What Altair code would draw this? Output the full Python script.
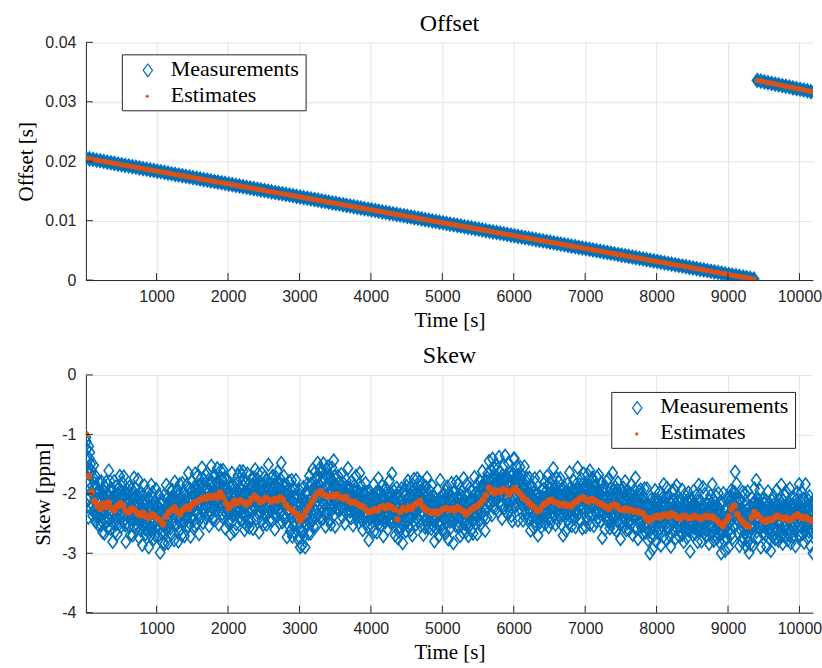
import altair as alt
import numpy as np
import pandas as pd

BLUE = "#0072BD"
ORANGE = "#D95319"
AXIS_COLOR = "#262626"
GRID_COLOR = "#e4e4e4"
SERIF = "Liberation Serif"
SANS = "Liberation Sans"

# ---------------------------------------------------------------- data
# Clock offset [s], sampled every 50 s; the clock is stepped at ~9380 s
offset_lower = [
    0.02050, 0.02039, 0.02028, 0.02017, 0.02007, 0.01996, 0.01985, 0.01974, 0.01963, 0.01952,
    0.01941, 0.01930, 0.01920, 0.01909, 0.01898, 0.01887, 0.01876, 0.01865, 0.01854, 0.01844,
    0.01833, 0.01822, 0.01811, 0.01800, 0.01789, 0.01778, 0.01768, 0.01757, 0.01746, 0.01735,
    0.01724, 0.01713, 0.01702, 0.01691, 0.01681, 0.01670, 0.01659, 0.01648, 0.01637, 0.01626,
    0.01615, 0.01605, 0.01594, 0.01583, 0.01572, 0.01561, 0.01550, 0.01539, 0.01528, 0.01518,
    0.01507, 0.01496, 0.01485, 0.01474, 0.01463, 0.01452, 0.01442, 0.01431, 0.01420, 0.01409,
    0.01398, 0.01387, 0.01376, 0.01366, 0.01355, 0.01344, 0.01333, 0.01322, 0.01311, 0.01300,
    0.01290, 0.01279, 0.01268, 0.01257, 0.01246, 0.01235, 0.01224, 0.01213, 0.01203, 0.01192,
    0.01181, 0.01170, 0.01159, 0.01148, 0.01137, 0.01126, 0.01116, 0.01105, 0.01094, 0.01083,
    0.01072, 0.01061, 0.01050, 0.01040, 0.01029, 0.01018, 0.01007, 0.00996, 0.00985, 0.00974,
    0.00964, 0.00953, 0.00942, 0.00931, 0.00920, 0.00909, 0.00898, 0.00887, 0.00877, 0.00866,
    0.00855, 0.00844, 0.00833, 0.00822, 0.00811, 0.00800, 0.00790, 0.00779, 0.00768, 0.00757,
    0.00746, 0.00735, 0.00724, 0.00714, 0.00703, 0.00692, 0.00681, 0.00670, 0.00659, 0.00648,
    0.00638, 0.00627, 0.00616, 0.00605, 0.00594, 0.00583, 0.00572, 0.00562, 0.00551, 0.00540,
    0.00529, 0.00518, 0.00507, 0.00496, 0.00485, 0.00475, 0.00464, 0.00453, 0.00442, 0.00431,
    0.00420, 0.00409, 0.00398, 0.00388, 0.00377, 0.00366, 0.00355, 0.00344, 0.00333, 0.00322,
    0.00312, 0.00301, 0.00290, 0.00279, 0.00268, 0.00257, 0.00246, 0.00236, 0.00225, 0.00214,
    0.00203, 0.00192, 0.00181, 0.00170, 0.00160, 0.00149, 0.00138, 0.00127, 0.00116, 0.00105,
    0.00094, 0.00083, 0.00073, 0.00062, 0.00051, 0.00040, 0.00029, 0.00018,
]
offset_upper = [
    0.03360, 0.03348, 0.03335, 0.03322, 0.03310, 0.03298, 0.03285, 0.03272, 0.03260,
    0.03248, 0.03235, 0.03222, 0.03210, 0.03198, 0.03185, 0.03172, 0.03160,
]
offset_start_lower = 10
offset_start_upper = 9410
offset_step = 50

# Skew estimate [ppm], every 40 s
skew_estimate = [
    -1.00, -1.70, -1.97, -2.12, -2.20, -2.25, -2.17, -2.22, -2.15, -2.24,
    -2.28, -2.21, -2.16, -2.20, -2.29, -2.31, -2.25, -2.27, -2.33, -2.36,
    -2.32, -2.38, -2.40, -2.34, -2.37, -2.42, -2.45, -2.51, -2.38, -2.31,
    -2.27, -2.23, -2.30, -2.34, -2.27, -2.22, -2.25, -2.19, -2.15, -2.13,
    -2.10, -2.07, -2.08, -2.04, -2.06, -2.03, -2.07, -1.98, -2.05, -2.16,
    -2.24, -2.19, -2.12, -2.15, -2.11, -2.14, -2.18, -2.15, -2.09, -2.04,
    -2.08, -2.14, -2.11, -2.07, -2.10, -2.13, -2.09, -2.11, -2.06, -2.10,
    -2.19, -2.24, -2.27, -2.31, -2.36, -2.45, -2.38, -2.29, -2.22, -2.14,
    -2.06, -1.99, -1.96, -2.01, -2.03, -2.05, -2.02, -2.04, -2.01, -2.06,
    -2.08, -2.05, -2.12, -2.15, -2.13, -2.17, -2.20, -2.22, -2.27, -2.31,
    -2.29, -2.26, -2.28, -2.23, -2.21, -2.24, -2.20, -2.23, -2.26, -2.43,
    -2.30, -2.24, -2.27, -2.22, -2.25, -2.19, -2.16, -2.12, -2.22, -2.27,
    -2.29, -2.32, -2.30, -2.33, -2.29, -2.26, -2.24, -2.27, -2.25, -2.28,
    -2.23, -2.26, -2.29, -2.35, -2.30, -2.26, -2.23, -2.21, -2.16, -2.10,
    -2.02, -1.90, -1.94, -1.99, -1.95, -1.97, -1.92, -1.94, -2.01, -1.96,
    -1.91, -1.95, -2.00, -2.06, -2.10, -2.15, -2.20, -2.23, -2.29, -2.27,
    -2.19, -2.16, -2.12, -2.10, -2.14, -2.16, -2.19, -2.17, -2.20, -2.19,
    -2.21, -2.15, -2.12, -2.08, -2.06, -2.10, -2.13, -2.09, -2.11, -2.14,
    -2.17, -2.19, -2.22, -2.25, -2.20, -2.18, -2.21, -2.26, -2.27, -2.25,
    -2.28, -2.27, -2.30, -2.29, -2.32, -2.33, -2.40, -2.46, -2.41, -2.39,
    -2.37, -2.40, -2.36, -2.35, -2.38, -2.33, -2.36, -2.40, -2.42, -2.37,
    -2.38, -2.41, -2.40, -2.37, -2.39, -2.42, -2.40, -2.37, -2.39, -2.38,
    -2.42, -2.45, -2.50, -2.54, -2.46, -2.38, -2.25, -2.20, -2.34, -2.42,
    -2.48, -2.52, -2.55, -2.40, -2.31, -2.36, -2.40, -2.45, -2.47, -2.43,
    -2.44, -2.40, -2.37, -2.39, -2.42, -2.40, -2.44, -2.43, -2.38, -2.35,
    -2.38, -2.41, -2.39, -2.43, -2.46, -2.44,
]
skew_est_start = 10
skew_est_step = 40

# Skew measurements, every 5 s, as deviation from the estimate [0.01 ppm]
skew_meas_dev = [
    -5, -12, -25, -40, -60, -85, -110, -140, 50, 30, -10, 40, -35, 20, -55, 10, 35, -20, 10, -40,
    25, -5, 45, -30, 30, -15, 5, -35, 20, 40, -25, 10, -12, 21, -32, 5, 26, -18, 39, -6,
    14, -27, 3, 46, -21, -9, 33, -40, 17, 0, -14, 22, -50, 11, 28, -3, -24, 42, -17, 8,
    -35, 19, 6, -11, 54, -29, 12, -2, 36, -20, -44, 24, 9, -15, 31, -57, 18, 2, -26, 45,
    -5, 27, -36, 15, -12, 40, -23, 6, -47, 21, 3, -9, 30, -30, 13, 51, -18, -3, 22, -39,
    10, -17, 35, -6, -27, 18, 49, -14, 0, 25, -33, 9, -52, 16, 4, 37, -21, 12, -8, 28,
    -24, 3, 43, -12, 19, -38, 8, -2, 33, -18, 15, -45, 24, 6, -29, 52, -11, 18, -5, 36,
    -15, 9, -32, 22, 1, -21, 57, -9, 16, -41, 27, 4, -14, 39, -26, 10, -3, 21, -50, 13,
    30, -20, 6, -8, 46, -27, 15, -36, 3, 24, -12, 42, -23, 9, -2, 31, -50, 18, 8, -17,
    19, -30, 10, 55, -6, -24, 36, -14, 2, 27, -42, 13, 21, -9, -33, 5, 45, -18, 12, -3,
    -11, 22, -29, 6, 40, -17, 0, 18, -54, 12, 28, -5, -21, 34, 9, -38, 16, -12, 48, -2,
    15, -33, 4, 25, -14, 53, -23, 7, -6, 31, -45, 19, 2, -18, 39, -9, 13, -27, 3, 21,
    -41, 12, 33, -3, -20, 24, 6, -51, 16, 43, -11, 0, 27, -30, 10, -15, 36, -8, 18, -50,
    9, 28, -17, 46, -5, -26, 13, 21, -36, 2, 52, -12, 6, -23, 30, -2, -44, 15, 24, -9,
    4, -21, 37, -14, 18, -3, -32, 57, -8, 12, -24, 33, 0, -47, 19, 9, -18, 40, -6, 25,
    -27, 16, -2, 30, -39, 13, 49, -11, 22, -15, 3, -35, 42, 8, -20, 27, -5, -55, 15, 36,
    2, -12, 24, -29, 10, 54, -18, 5, -42, 21, 31, -8, -23, 13, 0, 39, -33, 18, -3, -15,
    43, -6, -26, 12, 28, -50, 9, 19, -14, 3, -30, 51, -2, 16, -36, 25, 6, -20, 33, -11,
    -18, 34, 8, -41, 15, -5, 22, -24, 50, -12, 2, 27, -45, 10, 18, -8, -29, 37, -17, 4,
    24, -3, -36, 19, 45, -15, 6, -23, 31, -9, -53, 13, 25, 0, -18, 40, -12, 9, -32, 16,
    -6, 28, -21, 3, 37, -44, 12, 21, -11, 54, -27, 4, -2, 33, -17, 15, -50, 22, 7, -14,
    18, -39, 10, 30, -5, -18, 46, -9, 2, -26, 24, 53, -14, 6, -33, 19, -3, 42, -23, 9,
    52, -15, 27, -8, -47, 13, 3, 34, -20, -2, 21, -36, 52, -11, 16, -27, 6, 31, -42, 12,
    -9, 22, -30, 40, 4, -17, -3, 25, -50, 15, 36, -12, 8, -21, 45, -6, 19, -38, 2, 28,
    10, -24, 42, -5, 16, -57, 21, 0, -18, 33, -8, 13, -32, 49, 3, -14, 27, -41, 18, -2,
    -20, 39, 6, -27, 12, 22, -45, 9, 30, -11, -24, 56, -3, 16, -35, 8, 25, -17, -6, 36,
    4, -32, 19, 43, -12, -2, 28, -21, 10, -51, 24, 2, 37, -15, 15, -29, -8, 48, -18, 9,
    27, -14, -38, 18, 3, 31, -23, 58, -6, 13, -42, 21, 0, -26, 40, -9, 12, -33, 22, -5,
    -21, 6, 34, -54, 16, 25, -11, 4, -29, 45, -3, 19, -39, 9, 30, -17, 50, -12, -45, 15,
    7, -27, 21, 2, -15, 39, -35, 13, 54, -8, -20, 25, -2, 33, -40, 18, 4, -23, 42, -38,
    -45, 12, 28, -18, 37, -42, 3, 21, -26, 49, -9, -33, 24, 15, -52, 40, -6, 16, -21, 31,
    -14, 46, 9, -38, 22, -3, 52, -27, 13, -45, 39, 4, -20, 30, -32, 55, -11, 18, -41, 25,
    6, -30, 43, -12, 19, -48, 33, 10, -23, 51, -5, -36, 28, 15, -17, 42, -44, 2, 31, -9,
    -27, 36, -2, 18, -41, 52, -15, 8, 25, -33, 12, -54, 34, 0, 45, -21, 16, -30, 49, -6,
    21, -39, 4, 37, -17, 30, -47, 10, -26, 46, -2, 24, -36, 16, 58, -20, -8, 34, -51, 6,
    -9, 18, -5, 12, -23, 3, 31, -14, 7, -2, 21, -27, 10, 0, -17, 39, -6, 13, -33, 4,
    15, -8, 25, -20, 2, -42, 9, 19, -3, 28, -12, 6, -24, 16, 48, -11, -2, 22, -15, 7,
    -18, 10, 4, -29, 36, -6, 13, -2, -38, 21, 3, -14, 27, -21, 9, 0, 43, -9, 18, -26,
    6, 24, -12, 2, -32, 16, -5, 52, -18, 10, -8, 33, -24, 4, 19, -41, 12, -3, 25, -14,
    22, -17, 3, 40, -9, -21, 15, -5, 30, -29, 7, 18, -47, 2, 12, -11, 34, -20, 0, 27,
    -3, 13, -26, 7, 21, -12, 45, -35, 4, 16, -8, -18, 28, -2, 10, -39, 19, 3, -15, 54,
    -23, 6, 31, -14, 0, 24, -30, 12, -6, 37, -20, 2, 18, -50, 9, 27, -11, 15, -27, 4,
    33, -5, -17, 21, 10, -36, 3, 25, -12, -2, 42, -23, 13, 7, -29, 19, -9, 57, -18, 0,
    12, -24, 28, -8, 16, -3, -44, 22, 6, -15, 36, -11, 2, 19, -32, 10, 46, -21, 4, -12,
    -30, 18, 3, -20, 39, -6, 13, -53, 24, 0, -14, 30, -26, 9, 21, -5, -36, 15, 40, -17,
    7, -11, 49, -27, 2, 16, -18, 6, 33, -39, 12, -3, 22, -14, -45, 27, 4, -21, 13, 50,
    -15, 28, -6, 10, -33, 19, 0, -23, 42, -9, 15, 3, -29, 36, -2, -18, 24, 9, -42, 18,
    4, -20, 30, -3, 13, -47, 21, 7, -12, 25, -35, 2, 39, -17, 10, 54, -24, 3, 16, -8,
    -27, 12, -2, 34, -15, 6, 22, -30, 0, 46, -11, 18, -21, 9, -5, 28, -50, 13, 4, -14,
    21, -8, -29, 16, 3, 40, -18, 12, -38, 24, 6, -12, 52, -5, -23, 15, 2, -32, 27, -9,
    13, -36, 9, 25, -17, 2, -42, 31, -6, 19, -24, 4, 36, -14, 10, -53, 18, -2, 28, -20,
    -5, 22, -30, 12, 43, -11, 3, -21, 16, -58, 27, 7, -15, 33, -3, 13, -26, 48, -9, 6,
    18, -12, 39, -23, 4, -33, 15, 2, -45, 24, 10, -18, 30, -6, 21, -39, 12, -2, 55, -14,
    -21, 9, -3, 27, -29, 16, 51, -9, 6, -17, 34, -36, 13, 0, -24, 19, 40, -12, 3, -32,
    10, 30, -18, 4, -41, 22, -8, 15, 51, -20, 2, -27, 24, 9, -14, 36, -47, 16, -5, 21,
    -9, 18, 43, -24, 7, -2, -35, 28, 12, -15, 54, -6, 19, -30, 3, 25, -18, 9, -52, 31,
    15, -5, 24, -38, 13, 36, -12, 2, -21, 45, -27, 10, 4, -17, 30, -8, 18, -42, 22, 53,
    -18, 7, -30, 19, 42, -11, 16, -3, 49, -26, 6, 27, -14, 37, -35, 12, 0, 57, -21, 15,
    -6, 33, -23, 10, 21, -45, 4, 28, -12, 18, -2, 40, -32, 13, 56, -9, 24, -17, 3, -39,
    22, -14, 9, 46, -20, 2, -27, 16, 36, -8, 15, -36, 25, 4, -50, 30, -11, 19, 55, -24,
    50, -17, 12, -30, 3, 21, -9, 37, -23, 6, -50, 27, 13, -3, 18, -29, 45, -12, 2, 24,
    -15, 31, -6, 10, -39, 19, 4, -18, 52, -11, 15, 28, -24, 7, -2, 36, -33, 12, 21, -8,
    3, -26, 42, -14, 16, -47, 9, 25, -5, 33, -20, 0, 13, -36, 22, 6, -12, 49, -23, 10,
    -30, 19, 2, -17, 28, 7, -41, 15, -3, 24, -11, 58, -21, 4, 12, -29, 34, -8, 18, -2,
    13, -21, 27, -6, 4, 39, -32, 10, -14, 21, 0, -18, 46, -26, 7, 16, -44, 3, 30, -12,
    -5, 22, -36, 15, 2, -12, 33, -20, 9, 53, -27, 6, -9, 25, -3, -38, 18, 12, -17, 40,
    19, -9, 7, -29, 36, -2, -21, 13, 45, -15, 3, 24, -33, 10, -6, 28, -53, 16, 4, -18,
    -12, 27, -5, 18, -42, 9, 22, -14, 2, 37, -24, 6, 15, -32, 55, -8, 12, -20, 30, -3,
    16, -33, 10, 3, 25, -17, 43, -9, -27, 19, 0, -41, 30, 7, -14, 21, -5, 56, -23, 12,
    -20, 6, 28, -11, -36, 15, 4, 33, -18, 9, -50, 24, 2, -8, 40, -26, 13, -2, 19, -50,
    25, -6, 15, -32, 9, 42, -14, 3, -21, 28, -2, 52, -39, 12, 18, -9, 4, -27, 36, 16,
    -11, 21, -45, 7, 31, -3, 13, -20, 24, -35, 2, 39, -12, 16, -26, 6, 46, -17, 10, -5,
    18, -29, 4, 36, -9, 22, -57, 12, 0, -15, 30, -6, 19, -41, 9, 27, -2, -21, 43, -14,
    3, 15, -24, 10, 51, -18, 6, -33, 22, 2, -11, 34, -27, 13, -5, 55, -20, 7, 25, -38,
    -17, 9, 30, -5, 18, -44, 12, 24, -8, -23, 40, 3, -14, 21, -30, 15, 4, -50, 33, -2,
    12, -21, 2, 27, -12, 37, -29, 9, 16, -3, 48, -18, 6, -36, 22, -9, 13, 31, -24, 4,
    -33, 19, 10, -15, 4, 28, -23, 43, -6, 13, -2, -42, 24, 7, 18, -14, 36, -27, 3, 57,
    -8, 16, -30, 21, -3, 9, -47, 25, 4, 33, -18, 12, -11, 39, 0, -24, 15, 6, -35, 22,
    28, -12, 3, -21, 42, -5, 18, -32, 10, 22, -15, 49, -9, 2, -38, 16, 27, -18, 7, -54,
    13, -26, 36, -2, 19, -14, 6, -52, 24, 9, -29, 31, -6, 15, 45, -20, 3, -41, 21, 10,
    -18, 27, 4, -30, 16, -8, 39, -21, 12, 2, -47, 22, 9, -14, 33, -3, 19, -36, 52, -11,
    6, -17, 28, -5, -41, 18, 10, 45, -24, 3, -12, 31, -20, 13, 0, -33, 25, 7, -51, 21,
    -9, 37, -15, 4, 22, -29, 13, -2, 42, -18, 9, -39, 19, 3, 50, -23, 12, -6, 28, -14,
    16, -5, -32, 24, 7, -20, 33, -11, 2, 49, -27, 15, -3, 21, -44, 10, -17, 36, 4, -24,
    -2, 19, 9, -36, 27, -12, 3, 40, -21, 13, -8, 24, -56, 16, 6, -15, 31, -5, 18, -29,
    22, -9, 45, -18, 2, 12, -30, 19, -3, 34, -23, 7, 15, -42, 27, -6, 54, -14, 9, -21,
    -12, 30, -3, 16, -38, 6, 24, -17, 51, -9, 13, -26, 3, 40, -20, 10, -2, -35, 21, 7,
    18, -23, 10, -6, 28, -45, 15, 4, -14, 36, -2, 22, -30, 9, 54, -18, 2, 27, -41, 13,
    -5, 21, -27, 39, 3, -15, 12, -33, 25, 7, -21, 46, -8, 15, -36, 19, 0, -12, 31, -50,
    9, -18, 34, -11, 16, 55, -24, 6, -3, 27, -42, 13, 21, -8, 2, -29, 40, -17, 10, 4,
    -52, 24, -12, 33, -21, 7, 43, -30, 15, -2, 19, -50, 10, 28, -9, 3, -36, 22, 57, -15,
    12, -6, 37, -23, 4, 18, -32, 9, 25, -14, -54, 21, 2, -18, 31, 13, -3, -39, 16, 45,
    -26, 7, 19, -11, 3, 49, -17, 28, -36, 10, -5, 24, -21, 56, -29, 15, 6, -44, 34, -9,
    21, -30, 13, 2, -18, 33, -8, 16, -47, 25, 9, -14, 40, -3, -24, 19, 4, 54, -33, 12,
    -3, 18, -38, 27, 10, -21, 6, 42, -12, 22, -50, 15, 2, -9, 30, -27, 16, -6, 37, -20,
    28, -11, 4, -24, 36, 13, -42, 19, -2, 9, 51, -17, 25, -32, 3, -14, 21, 12, -53, 15,
    -21, 33, -5, 16, -29, 3, 40, -15, 7, 24, -36, 2, 12, -20, 46, -9, -26, 18, 6, -42,
    10, -17, 27, 4, -33, 19, -6, 54, -23, 13, 0, -45, 31, 7, -12, 21, -29, 39, -3, 18,
    -14, 43, -20, 9, 22, -38, 15, -2, 30, -26, 6, 53, -18, 12, -39, 25, 3, -11, 16, -30,
    24, -3, -27, 36, 2, -15, 19, -50, 10, 28, -9, 4, 37, -21, 15, -35, 9, 51, -17, 6,
    -32, 15, 7, -18, 42, -6, 22, -29, 3, -12, 33, -41, 16, 4, -23, 57, -9, 25, -15, 2,
    19, -36, 12, 28, -5, -21, 39, -14, 6, -45, 24, 9, -17, 31, -3, 18, -54, 13, 34, -11,
    3,
]
skew_meas_start = 10
skew_meas_step = 5

time_ticks = [1000, 2000, 3000, 4000, 5000, 6000, 7000, 8000, 9000, 10000]
offset_ticks = [0, 0.01, 0.02, 0.03, 0.04]
skew_ticks = [-4, -3, -2, -1, 0]
time_domain = [10, 10190]

# ---------------------------------------------------------------- tables
off_t = np.concatenate([
    offset_start_lower + offset_step * np.arange(len(offset_lower)),
    offset_start_upper + offset_step * np.arange(len(offset_upper)),
])
off_v = np.array(offset_lower + offset_upper)
offset_meas = pd.DataFrame({"t": off_t, "v": off_v})
offset_est = pd.DataFrame({"t": off_t, "v": off_v})

est_arr = np.array(skew_estimate)
skew_est = pd.DataFrame({
    "t": skew_est_start + skew_est_step * np.arange(len(est_arr)),
    "v": est_arr,
})
idx = np.arange(len(skew_meas_dev))
per_est = skew_est_step // skew_meas_step
skew_meas = pd.DataFrame({
    "t": skew_meas_start + skew_meas_step * idx,
    "v": est_arr[np.minimum(idx // per_est, len(est_arr) - 1)] + np.array(skew_meas_dev) / 100.0,
})

W, H = 728, 238
DIAMOND = "M0,-1L0.74,0L0,1L-0.74,0Z"


def panel(meas_df, est_df, y_ticks, title, y_title, meas_filled, est_size, legend_xy):
    x_enc = alt.X(
        "t:Q",
        scale=alt.Scale(domain=time_domain, nice=False, zero=False),
        axis=alt.Axis(values=time_ticks, title="Time [s]", labelExpr="'' + datum.value"),
    )
    y_enc = alt.Y(
        "v:Q",
        scale=alt.Scale(domain=[y_ticks[0], y_ticks[-1]], nice=False, zero=False),
        axis=alt.Axis(values=y_ticks, title=y_title, labelExpr="'' + datum.value"),
    )

    if meas_filled:
        meas_mark = alt.Chart(meas_df).mark_point(
            shape=DIAMOND, size=200, fill=BLUE, stroke=BLUE, fillOpacity=1,
            opacity=1, strokeWidth=1.2, clip=True,
        )
    else:
        meas_mark = alt.Chart(meas_df).mark_point(
            shape=DIAMOND, size=160, filled=False, color=BLUE,
            opacity=1, strokeWidth=1.6, clip=True,
        )
    meas = meas_mark.encode(x=x_enc, y=y_enc)

    est = alt.Chart(est_df).mark_circle(
        size=est_size, color=ORANGE, opacity=1, clip=True
    ).encode(x=x_enc, y=y_enc)

    # inward tick marks on both axes
    xt = alt.Chart(pd.DataFrame({"t": time_ticks})).mark_rule(
        color=AXIS_COLOR, strokeWidth=1
    ).encode(x=x_enc, y=alt.value(H), y2=alt.value(H - 7))
    yt = alt.Chart(pd.DataFrame({"v": y_ticks})).mark_rule(
        color=AXIS_COLOR, strokeWidth=1
    ).encode(y=y_enc, x=alt.value(0), x2=alt.value(7))

    one = pd.DataFrame({"k": [0]})

    # panel title
    head = alt.Chart(one).mark_text(
        align="center", baseline="alphabetic", font=SERIF, fontSize=24, color="black"
    ).encode(x=alt.value(W / 2), y=alt.value(-11.7), text=alt.value(title))

    # legend box
    lx, ly = legend_xy
    box = alt.Chart(one).mark_rect(
        fill="white", stroke=AXIS_COLOR, strokeWidth=1
    ).encode(x=alt.value(lx), x2=alt.value(lx + 184), y=alt.value(ly), y2=alt.value(ly + 56))
    sym1 = alt.Chart(one).mark_point(
        shape=DIAMOND, size=160, filled=False, color=BLUE, opacity=1, strokeWidth=1.2
    ).encode(x=alt.value(lx + 25.5), y=alt.value(ly + 15.5))
    sym2 = alt.Chart(one).mark_circle(size=10, color=ORANGE, opacity=1).encode(
        x=alt.value(lx + 25), y=alt.value(ly + 41.5)
    )
    txt1 = alt.Chart(one).mark_text(
        align="left", baseline="alphabetic", font=SERIF, fontSize=22, color="black"
    ).encode(x=alt.value(lx + 48.5), y=alt.value(ly + 21), text=alt.value("Measurements"))
    txt2 = alt.Chart(one).mark_text(
        align="left", baseline="alphabetic", font=SERIF, fontSize=22, color="black"
    ).encode(x=alt.value(lx + 48.5), y=alt.value(ly + 47), text=alt.value("Estimates"))

    return alt.layer(meas, est, xt, yt, head, box, sym1, sym2, txt1, txt2).properties(
        width=W, height=H
    )


top = panel(offset_meas, offset_est, offset_ticks, "Offset", "Offset [s]", True, 30, (36.5, 12.5))
bottom = panel(skew_meas, skew_est, skew_ticks, "Skew", "Skew [ppm]", False, 45, (526.5, 17.5))

chart = alt.vconcat(top, bottom, spacing=14).properties(
    padding={"left": 15, "top": 11, "right": 0, "bottom": 0},
    background="white",
).configure_view(stroke=None).configure_axis(
    domainColor=AXIS_COLOR,
    domainWidth=1,
    gridColor=GRID_COLOR,
    gridWidth=1,
    ticks=False,
    tickSize=0,
    labelFont=SANS,
    labelFontSize=16,
    labelColor=AXIS_COLOR,
    labelFlush=False,
    titleFont=SERIF,
    titleFontSize=21,
    titleFontWeight="normal",
    titleColor="black",
).configure_axisX(
    labelPadding=8, titlePadding=5,
).configure_axisY(
    labelPadding=10, titlePadding=8,
)

chart.save("out.html", embed_options={"renderer": "svg", "actions": False})
